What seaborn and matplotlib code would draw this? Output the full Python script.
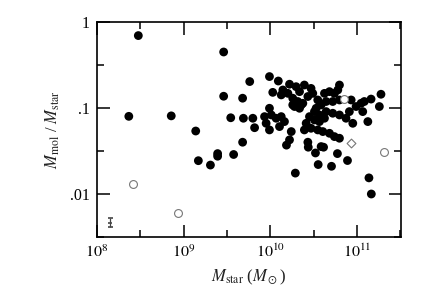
import numpy as np
import pandas as pd
import matplotlib
matplotlib.use("Agg")
import matplotlib.pyplot as plt
import matplotlib.ticker as mticker
import seaborn as sns

# filled circles: M_star (Msun), M_mol / M_star
mstar_filled = [
    3.0e8, 2.9e9, 2.33e8, 7.2e8, 1.38e9, 2.9e9, 4.8e9, 5.8e9, 3.5e9, 4.9e9,
    6.3e9, 6.6e9, 4.8e9, 1.48e9, 2.04e9, 2.47e9, 2.47e9, 3.78e9,
    9.8e9, 1.24e10, 1.67e10, 1.99e10, 2.48e10, 2.96e10, 1.07e10, 1.34e10, 1.60e10, 1.82e10,
    2.08e10, 1.91e10, 2.18e10, 2.38e10, 2.72e10, 3.10e10, 3.54e10, 3.87e10, 4.23e10, 4.83e10,
    5.51e10, 6.30e10, 6.03e10, 8.6e10, 9.8e10, 1.12e11, 1.22e11, 1.46e11, 1.90e11, 1.82e11,
    1.17e11, 1.34e11, 8.2e10, 7.5e10, 6.3e10, 5.27e10, 4.42e10, 3.70e10, 3.24e10, 2.84e10,
    2.60e10, 2.96e10, 3.54e10, 4.05e10, 4.83e10, 5.51e10, 6.30e10, 2.48e10, 1.75e10, 1.67e10,
    2.72e10, 3.87e10, 1.17e10, 1.03e10, 8.6e9, 9.8e9, 8.97e9, 1.34e10, 1.46e10, 1.28e10,
    9.8e9, 1.82e10, 2.28e10, 3.39e10, 3.70e10, 3.24e10, 4.23e10, 1.40e10, 2.18e10, 5.27e10,
    4.42e10, 6.3e10, 8.98e10,
    1.54e10, 1.95e10, 3.58e10, 5.1e10, 7.8e10, 5.97e10, 3.33e10, 4.13e10, 2.75e10,
    1.38e11, 1.47e11,
]
ratio_filled = [
    0.695, 0.448, 0.080, 0.081, 0.054, 0.137, 0.130, 0.203, 0.077, 0.076,
    0.076, 0.059, 0.040, 0.0244, 0.0217, 0.0295, 0.0275, 0.0288,
    0.232, 0.206, 0.189, 0.177, 0.185, 0.169, 0.152, 0.142, 0.148, 0.130,
    0.119, 0.104, 0.0993, 0.1135, 0.136, 0.148, 0.124, 0.1086, 0.148, 0.155,
    0.148, 0.185, 0.162, 0.124, 0.104, 0.1135, 0.119, 0.127, 0.1445, 0.104,
    0.0908, 0.0695, 0.0908, 0.076, 0.083, 0.0869, 0.0908, 0.083, 0.0726, 0.0794,
    0.0664, 0.0581, 0.0556, 0.0532, 0.0508, 0.0465, 0.0445, 0.0556, 0.0532, 0.0426,
    0.040, 0.0356, 0.076, 0.083, 0.0794, 0.0993, 0.0664, 0.0794, 0.0695, 0.0608,
    0.0556, 0.1086, 0.1086, 0.0993, 0.0695, 0.0908, 0.076, 0.162, 0.155, 0.119,
    0.119, 0.124, 0.0664,
    0.037, 0.0175, 0.022, 0.021, 0.0245, 0.0295, 0.030, 0.035, 0.035,
    0.0154, 0.010,
]

# open circles
mstar_open = [2.63e8, 8.7e8, 7.2e10, 2.06e11]
ratio_open = [0.0132, 0.0060, 0.1265, 0.0308]

# open diamond
mstar_diamond = [8.5e10]
ratio_diamond = [0.0388]

# typical error bar
err_x = [1.43e8]
err_y = [0.00462]
err_lo = [0.00052]
err_hi = [0.00059]

sns.set_theme(style="ticks")
plt.rcParams["font.family"] = ["Liberation Serif", "DejaVu Serif"]
plt.rcParams["mathtext.fontset"] = "stix"

fig = plt.figure(figsize=(4.36, 3.0), dpi=100)
ax = fig.add_axes([97 / 436, 63 / 300, 304 / 436, 215 / 300])

df_f = pd.DataFrame({"mstar": mstar_filled, "ratio": ratio_filled})
sns.scatterplot(data=df_f, x="mstar", y="ratio", ax=ax, s=40, color="black",
                edgecolor="none", linewidth=0, zorder=3)

df_o = pd.DataFrame({"mstar": mstar_open, "ratio": ratio_open})
sns.scatterplot(data=df_o, x="mstar", y="ratio", ax=ax, s=32, facecolor="white",
                edgecolor="#777777", linewidth=0.8, zorder=4)

df_d = pd.DataFrame({"mstar": mstar_diamond, "ratio": ratio_diamond})
sns.scatterplot(data=df_d, x="mstar", y="ratio", ax=ax, s=20, marker="D",
                facecolor="white", edgecolor="#777777", linewidth=0.8, zorder=4)

ax.errorbar(err_x, err_y, yerr=[err_lo, err_hi], fmt="_", color="#444444",
            ms=3.5, mew=1.2, capsize=1.8, elinewidth=0.9, capthick=1.2, zorder=4)

ax.set_xscale("log")
ax.set_yscale("log")
ax.set_xlim(1e8, 10 ** 11.51)
ax.set_ylim(10 ** -2.5, 1)

ax.xaxis.set_major_locator(mticker.FixedLocator([1e8, 1e9, 1e10, 1e11]))
ax.xaxis.set_major_formatter(mticker.FixedFormatter(
    [r"$10^{8}$", r"$10^{9}$", r"$10^{10}$", r"$10^{11}$"]))
ax.xaxis.set_minor_locator(mticker.FixedLocator([10 ** 8.5, 10 ** 9.5, 10 ** 10.5, 10 ** 11.5]))
ax.xaxis.set_minor_formatter(mticker.NullFormatter())
ax.yaxis.set_major_locator(mticker.FixedLocator([0.01, 0.1, 1]))
ax.yaxis.set_major_formatter(mticker.FixedFormatter([".01", ".1", "1"]))
ax.yaxis.set_minor_locator(mticker.FixedLocator([10 ** -2.5, 10 ** -1.5, 10 ** -0.5]))
ax.yaxis.set_minor_formatter(mticker.NullFormatter())

ax.tick_params(which="both", direction="in", top=True, right=True, width=1.1,
               color="black", labelsize=11.5, labelcolor="black")
ax.tick_params(which="major", length=9, pad=5)
ax.tick_params(which="minor", length=5)
for sp in ax.spines.values():
    sp.set_linewidth(1.2)
    sp.set_color("black")

ax.set_xlabel(r"$M_\mathrm{star}$ ($M_\odot$)", fontsize=12, color="#222222", labelpad=5)
ax.set_ylabel(r"$M_\mathrm{mol}$ / $M_\mathrm{star}$", fontsize=12, color="#222222", labelpad=6)

fig.savefig("out.png", dpi=100)
